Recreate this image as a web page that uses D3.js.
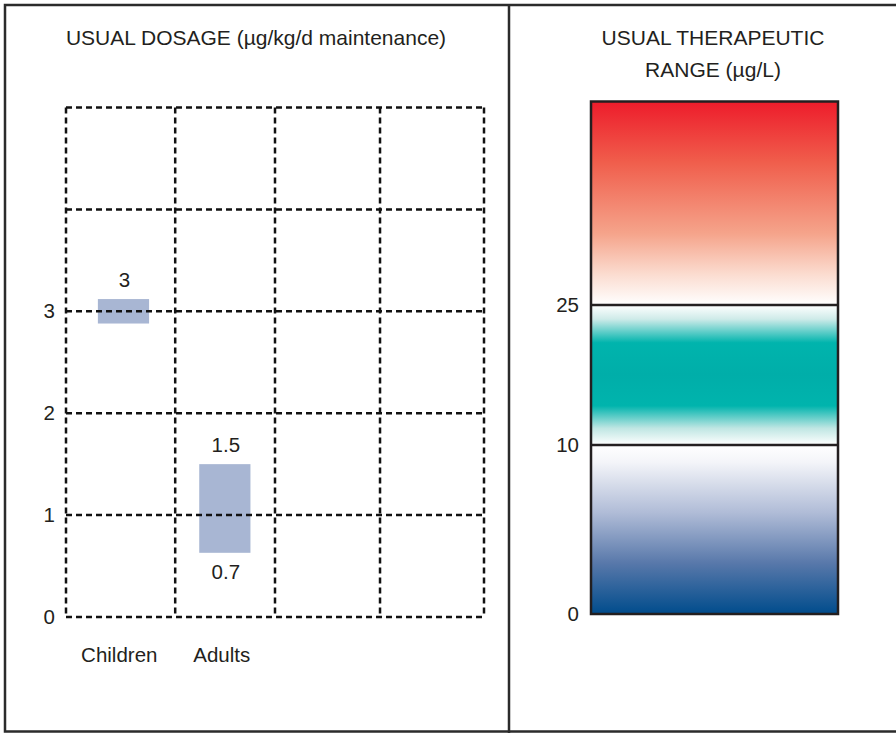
<!DOCTYPE html>
<html>
<head>
<meta charset="utf-8">
<script src="https://cdn.jsdelivr.net/npm/d3@7"></script>
<style>
  html, body { margin: 0; padding: 0; background: #fff; }
  svg { display: block; }
  text { font-family: "Liberation Sans", Arial, sans-serif; fill: #231f20; }
</style>
</head>
<body>
<svg id="chart" width="896" height="733"></svg>
<script>
// ---- Data ----
const categories = ["Children", "Adults"];
const categoryPos = [0.51, 1.49];   // label positions along the 4-column grid
const barPos = [0.55, 1.52];        // bar centres along the 4-column grid
const dosageLow = [2.88, 0.63];
const dosageHigh = [3.12, 1.5];
const dosageLabelTop = ["3", "1.5"];
const dosageLabelBottom = ["", "0.7"];
const dosageTicks = [0, 1, 2, 3];
const dosageGridY = [0, 1, 2, 3, 4, 5];
const dosageGridX = [0, 1.045, 2, 3.005, 4];
const rangeTicks = [0, 10, 25];
const rangeDomain = [0, 10, 25, 50];
const rangeBands = [
  { from: 25, to: 50, grad: "gRed" },
  { from: 10, to: 25, grad: "gTeal" },
  { from: 0, to: 10, grad: "gBlue" }
];
const leftTitle = "USUAL DOSAGE (\u00b5g/kg/d maintenance)";
const rightTitle = ["USUAL THERAPEUTIC", "RANGE (\u00b5g/L)"];

// ---- Setup ----
const svg = d3.select("#chart");
const ink = "#231f20";
const fs = 20.5;
const fsTitle = 21;

const defs = svg.append("defs");
function grad(id, stops) {
  const g = defs.append("linearGradient").attr("id", id)
    .attr("x1", 0).attr("y1", 0).attr("x2", 0).attr("y2", 1);
  stops.forEach(([o, c]) => g.append("stop").attr("offset", o).attr("stop-color", c));
}
grad("gRed", [[0, "#ed1c2b"], [0.3, "#f05e4c"], [0.65, "#f5a48b"], [0.85, "#fbdcd0"], [1, "#ffffff"]]);
grad("gTeal", [[0, "#ffffff"], [0.1, "#cfebe9"], [0.27, "#00b4ad"], [0.5, "#00aea9"], [0.72, "#00b4ad"], [0.88, "#bfe6e3"], [1, "#ffffff"]]);
grad("gBlue", [[0, "#ffffff"], [0.1, "#f4f5f9"], [0.4, "#b0bcd7"], [0.7, "#5878aa"], [1, "#004c8c"]]);

// frame
svg.append("path")
  .attr("d", "M900,5 H5 V731.5 H900 M509,5 V733")
  .attr("fill", "none").attr("stroke", "#2b2b2b").attr("stroke-width", 2.5);

// ---- Left panel ----
const x = d3.scaleLinear().domain([0, 4]).range([66, 484]);
const y = d3.scaleLinear().domain([0, 5]).range([617, 107.5]);

svg.append("text").attr("x", 256).attr("y", 45).attr("text-anchor", "middle")
  .style("font-size", fsTitle + "px").text(leftTitle);

// bars
const bw = 0.49;
const bars = svg.append("g");
categories.forEach((c, i) => {
  const bc = x(barPos[i]);
  const wpx = x(bw) - x(0);
  bars.append("rect")
    .attr("x", bc - wpx / 2).attr("width", wpx)
    .attr("y", y(dosageHigh[i])).attr("height", y(dosageLow[i]) - y(dosageHigh[i]))
    .attr("fill", "#a8b6d3");
  bars.append("text").attr("x", bc + 1).attr("y", y(dosageHigh[i]) - 12)
    .attr("text-anchor", "middle").style("font-size", fs + "px").text(dosageLabelTop[i]);
  if (dosageLabelBottom[i]) {
    bars.append("text").attr("x", bc + 1).attr("y", y(dosageLow[i]) + 26)
      .attr("text-anchor", "middle").style("font-size", fs + "px").text(dosageLabelBottom[i]);
  }
  svg.append("text").attr("x", x(categoryPos[i])).attr("y", 662)
    .attr("text-anchor", "middle").style("font-size", fs + "px").text(c);
});

// dashed grid
const grid = svg.append("g").attr("stroke", "#111").attr("stroke-width", 2.5)
  .attr("stroke-dasharray", "6,4").attr("fill", "none");
dosageGridY.forEach(v => grid.append("line")
  .attr("x1", x(0)).attr("x2", x(4)).attr("y1", y(v)).attr("y2", y(v)));
dosageGridX.forEach(v => grid.append("line")
  .attr("x1", x(v)).attr("x2", x(v)).attr("y1", y(5)).attr("y2", y(0)));

// y ticks
const yAxis = d3.axisLeft(y).tickValues(dosageTicks).tickSize(0).tickPadding(11)
  .tickFormat(d3.format("d"));
const ya = svg.append("g").attr("transform", `translate(${x(0)},0)`).call(yAxis);
ya.select(".domain").remove();
ya.selectAll("text").style("font-size", fs + "px")
  .style("font-family", '"Liberation Sans", Arial, sans-serif').attr("fill", ink);

// ---- Right panel ----
const ry = d3.scaleLinear().domain(rangeDomain).range([614, 445, 305, 101.5]);
const rx0 = 591, rx1 = 838;

rightTitle.forEach((t, i) => svg.append("text").attr("x", 713).attr("y", 45 + i * 31.5)
  .attr("text-anchor", "middle").style("font-size", fsTitle + "px").text(t));

rangeBands.forEach(b => svg.append("rect")
  .attr("x", rx0).attr("width", rx1 - rx0)
  .attr("y", ry(b.to)).attr("height", ry(b.from) - ry(b.to))
  .attr("fill", `url(#${b.grad})`));

svg.append("rect").attr("x", rx0).attr("y", ry(50)).attr("width", rx1 - rx0)
  .attr("height", ry(0) - ry(50)).attr("fill", "none").attr("stroke", ink).attr("stroke-width", 2.5);

rangeTicks.filter(v => v > 0).forEach(v => svg.append("line")
  .attr("x1", rx0).attr("x2", rx1).attr("y1", ry(v)).attr("y2", ry(v))
  .attr("stroke", ink).attr("stroke-width", 2.5));

const rAxis = d3.axisLeft(ry).tickValues(rangeTicks).tickSize(0).tickPadding(12)
  .tickFormat(d3.format("d"));
const ra = svg.append("g").attr("transform", `translate(${rx0},0)`).call(rAxis);
ra.select(".domain").remove();
ra.selectAll("text").style("font-size", fs + "px")
  .style("font-family", '"Liberation Sans", Arial, sans-serif').attr("fill", ink);
</script>
</body>
</html>
